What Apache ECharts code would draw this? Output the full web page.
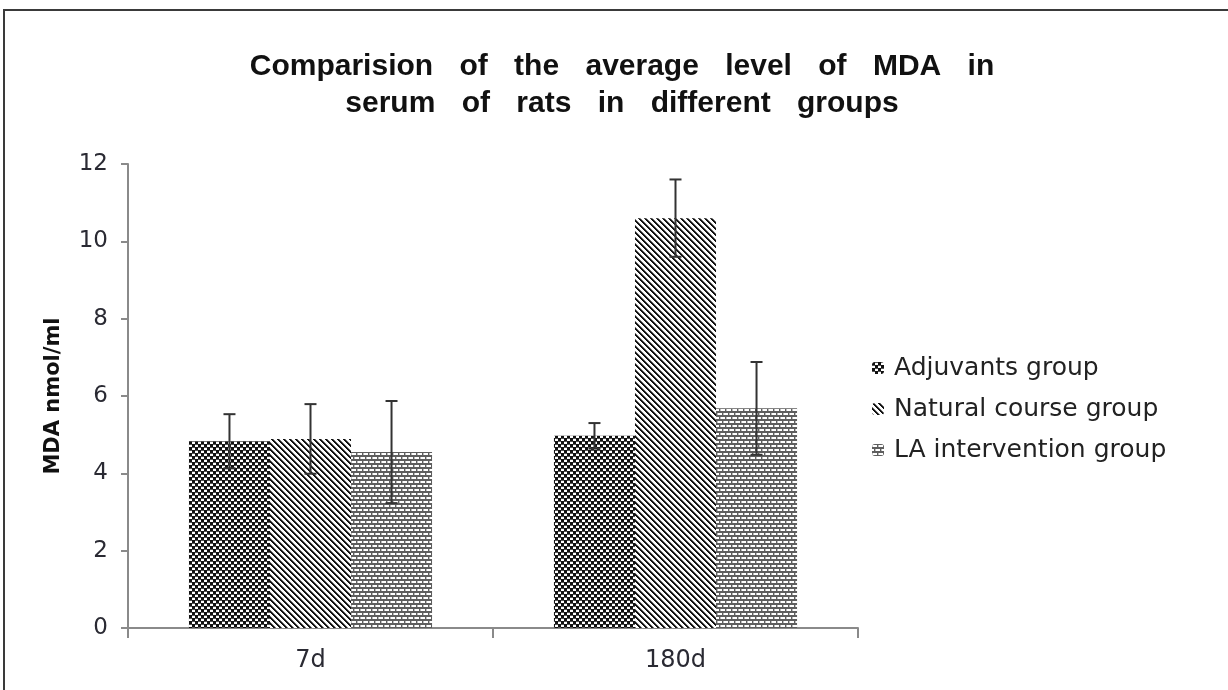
<!DOCTYPE html>
<html>
<head>
<meta charset="utf-8">
<script src="https://cdn.jsdelivr.net/npm/echarts@6/dist/echarts.min.js"></script>
<style>html,body{margin:0;padding:0;background:#fff}#c{width:1228px;height:690px}</style>
</head>
<body>
<div id="c"></div>
<script>
// ---- data ----
const categories = ['7d', '180d'];
const seriesNames = ['Adjuvants group', 'Natural course group', 'LA intervention group'];
const adjuvantsMean = [4.83, 4.97];
const adjuvantsErr = [0.70, 0.33];
const naturalMean = [4.89, 10.6];
const naturalErr = [0.90, 1.0];
const laMean = [4.55, 5.68];
const laErr = [1.32, 1.2];
const yTicks = [0, 2, 4, 6, 8, 10, 12];
const titleLines = ['Comparision of the average level of MDA in', 'serum of rats in different groups'];

const means = [adjuvantsMean, naturalMean, laMean];
const errs = [adjuvantsErr, naturalErr, laErr];

// ---- patterns ----
function makePattern(w, h, draw) {
  const c = document.createElement('canvas');
  c.width = w; c.height = h;
  const ctx = c.getContext('2d');
  draw(ctx, w, h);
  return { image: c, repeat: 'repeat' };
}
const checkPat = makePattern(6, 6, (ctx) => {
  ctx.fillStyle = '#ffffff'; ctx.fillRect(0, 0, 6, 6);
  ctx.fillStyle = '#111111';
  ctx.fillRect(0, 0, 3, 3); ctx.fillRect(3, 3, 3, 3);
  ctx.fillStyle = '#555555';
  ctx.fillRect(3, 0, 3, 1); ctx.fillRect(0, 3, 3, 1);
});
const diagPat = makePattern(6, 6, (ctx) => {
  ctx.fillStyle = '#ffffff'; ctx.fillRect(0, 0, 6, 6);
  for (let y = 0; y < 6; y++) for (let x = 0; x < 6; x++) {
    const d = ((x - y) % 6 + 6) % 6;
    if (d === 0 || d === 1) { ctx.fillStyle = '#111111'; ctx.fillRect(x, y, 1, 1); }
    else if (d === 2) { ctx.fillStyle = '#777777'; ctx.fillRect(x, y, 1, 1); }
  }
});
const brickPat = makePattern(12, 8, (ctx) => {
  ctx.fillStyle = '#5e5e5e'; ctx.fillRect(0, 0, 12, 8);
  ctx.fillStyle = '#ffffff';
  ctx.fillRect(1, 1, 4, 2); ctx.fillRect(7, 1, 4, 2);
  ctx.fillRect(4, 5, 4, 2); ctx.fillRect(10, 5, 2, 2); ctx.fillRect(0, 5, 2, 2);
  ctx.fillStyle = '#bdbdbd';
  ctx.fillRect(6, 1, 1, 2); ctx.fillRect(0, 1, 1, 2);
  ctx.fillRect(3, 5, 1, 2); ctx.fillRect(9, 5, 1, 2);
});
const patterns = [checkPat, diagPat, brickPat];

const GAP = 0.334;
const barSeries = seriesNames.map((name, i) => ({
  name: name,
  type: 'bar',
  data: means[i],
  barGap: '0%',
  barCategoryGap: (GAP * 100) + '%',
  itemStyle: { color: patterns[i] },
  z: 2
}));

const errSeries = seriesNames.map((name, i) => ({
  name: name + ' err',
  type: 'custom',
  z: 5,
  data: categories.map((c, k) => [k, means[i][k] - errs[i][k], means[i][k] + errs[i][k]]),
  renderItem: function (params, api) {
    const band = api.size([1, 0])[0];
    const bw = band * (1 - GAP) / 3;
    const cx = api.coord([api.value(0), 0])[0] + (i - 1) * bw;
    const lo = api.coord([api.value(0), api.value(1)])[1];
    const hi = api.coord([api.value(0), api.value(2)])[1];
    const cap = 6;
    const st = { stroke: '#333333', lineWidth: 2, fill: null };
    return {
      type: 'group',
      children: [
        { type: 'line', shape: { x1: cx, y1: lo, x2: cx, y2: hi }, style: st },
        { type: 'line', shape: { x1: cx - cap, y1: hi, x2: cx + cap, y2: hi }, style: st },
        { type: 'line', shape: { x1: cx - cap, y1: lo, x2: cx + cap, y2: lo }, style: st }
      ]
    };
  }
}));

// title words with wide word spacing (rich text)
const titleText = titleLines.map(l => l.split(' ').map(w => '{w|' + w + '}').join(' ')).join('\n');

const chart = echarts.init(document.getElementById('c'), null, { renderer: 'canvas' });
chart.setOption({
  animation: false,
  backgroundColor: '#ffffff',
  title: {
    text: titleText,
    left: 617, textAlign: 'center', top: 43,
    textStyle: {
      fontFamily: 'Liberation Sans', fontWeight: 'bold', fontSize: 30, lineHeight: 37, color: '#111111',
      rich: {
        w: { fontFamily: 'Liberation Sans', fontWeight: 'bold', fontSize: 30, lineHeight: 37, color: '#111111', padding: [0, 9, 0, 9] }
      }
    }
  },
  legend: {
    data: seriesNames,
    orient: 'vertical',
    left: 867, top: 349,
    itemWidth: 12, itemHeight: 12, itemGap: 13,
    textStyle: { fontFamily: 'DejaVu Sans', fontSize: 25, color: '#222222', lineHeight: 28, padding: [0, 0, 0, 5] }
  },
  graphic: [{
    type: 'rect', silent: true, z: 100,
    shape: { x: 4, y: 10, width: 1260, height: 720 },
    style: { fill: null, stroke: '#3a3a3a', lineWidth: 2 }
  }],
  grid: { left: 128, right: 370, top: 164, bottom: 62 },
  xAxis: {
    type: 'category',
    data: categories,
    axisLine: { lineStyle: { color: '#8a8a8a', width: 2 } },
    axisTick: { show: true, length: 10, lineStyle: { color: '#8a8a8a', width: 2 } },
    axisLabel: { margin: 21, fontFamily: 'DejaVu Sans', fontSize: 24, color: '#2a2a33' }
  },
  yAxis: {
    type: 'value',
    min: yTicks[0], max: yTicks[yTicks.length - 1], interval: 2,
    name: 'MDA nmol/ml',
    nameLocation: 'middle',
    nameGap: 64,
    nameTextStyle: { fontFamily: 'DejaVu Sans', fontWeight: 'bold', fontSize: 21, color: '#111111' },
    axisLine: { show: true, lineStyle: { color: '#8a8a8a', width: 2 } },
    axisTick: { show: true, length: 7, lineStyle: { color: '#8a8a8a', width: 2 } },
    splitLine: { show: false },
    axisLabel: { margin: 20, fontFamily: 'DejaVu Sans', fontSize: 23, color: '#2a2a33' }
  },
  series: barSeries.concat(errSeries)
});
</script>
</body>
</html>
